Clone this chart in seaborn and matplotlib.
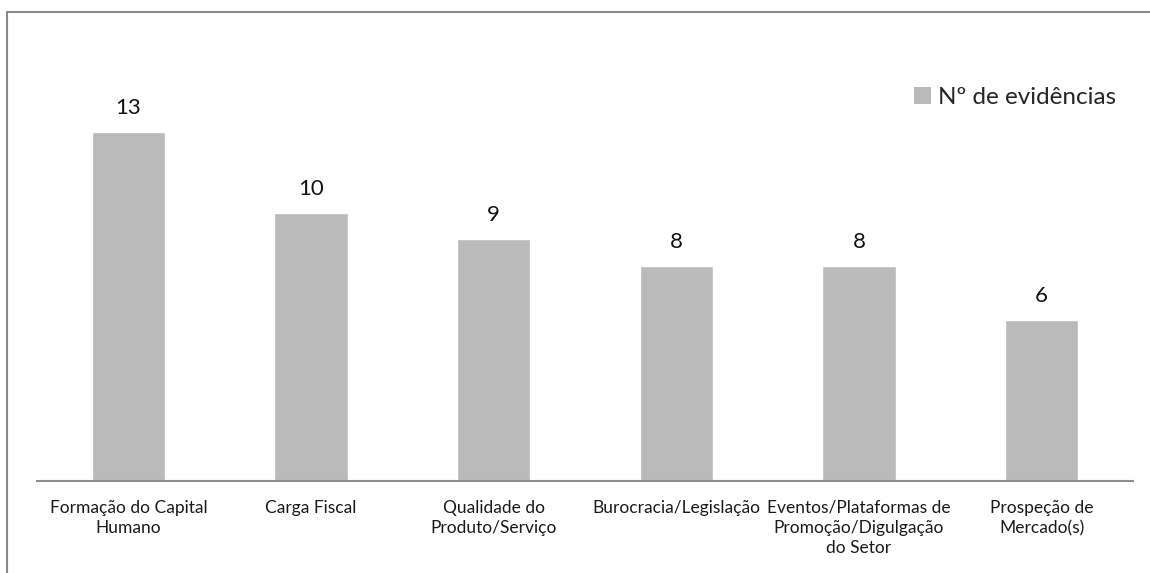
import matplotlib
matplotlib.use("Agg")
import matplotlib.pyplot as plt
from matplotlib.lines import Line2D
from matplotlib.patches import Patch
import seaborn as sns
import pandas as pd

categorias = [
    "Formação do Capital\nHumano",
    "Carga Fiscal",
    "Qualidade do\nProduto/Serviço",
    "Burocracia/Legislação",
    "Eventos/Plataformas de\nPromoção/Digulgação\ndo Setor",
    "Prospeção de\nMercado(s)",
]
evidencias = [13, 10, 9, 8, 8, 6]
serie = "Nº de evidências"

sns.set_theme(style="white")
plt.rcParams["font.family"] = ["Lato", "DejaVu Sans"]

df = pd.DataFrame({"categoria": categorias, "valor": evidencias})

W, H = 1150, 573
fig = plt.figure(figsize=(W / 100, H / 100), dpi=100)
ax = fig.add_axes([37 / W, 1 - 481 / H, (1133 - 37) / W, (481 - 38) / H])

bar_color = "#BABABA"
sns.barplot(data=df, x="categoria", y="valor", color=bar_color,
            width=0.4, saturation=1, ax=ax)

ax.set_xlim(-0.5, len(categorias) - 0.5)
ax.set_ylim(0, 16.5)
ax.set_xlabel("")
ax.set_ylabel("")
ax.set_yticks([])
for s in ["top", "right", "left"]:
    ax.spines[s].set_visible(False)
ax.spines["bottom"].set_color("#8C8C8C")
ax.spines["bottom"].set_linewidth(1.5)
ax.tick_params(axis="x", length=0, pad=13.5, labelsize=12.5, colors="#1a1a1a")
for t in ax.get_xticklabels():
    t.set_linespacing(1.33)
    t.set_verticalalignment("top")

ax.bar_label(ax.containers[0], labels=[str(v) for v in evidencias],
             padding=10, fontsize=16, color="#111111")

ax.legend(handles=[Patch(facecolor=bar_color, edgecolor="none", label=serie)],
          loc="upper left", bbox_to_anchor=(914 / W, 1 - 87 / H),
          bbox_transform=fig.transFigure, frameon=False, fontsize=17.5,
          handlelength=0.7, handleheight=0.7, handletextpad=0.3,
          borderaxespad=0, borderpad=0)

# outer chart border
frame_color = "#8A8A8A"
fig.add_artist(Line2D([7 / W, 1], [1 - 12 / H, 1 - 12 / H],
                      transform=fig.transFigure, color=frame_color, lw=1.5))
fig.add_artist(Line2D([7 / W, 7 / W], [0, 1 - 12 / H],
                      transform=fig.transFigure, color=frame_color, lw=1.5))

fig.savefig("out.png", dpi=100)
